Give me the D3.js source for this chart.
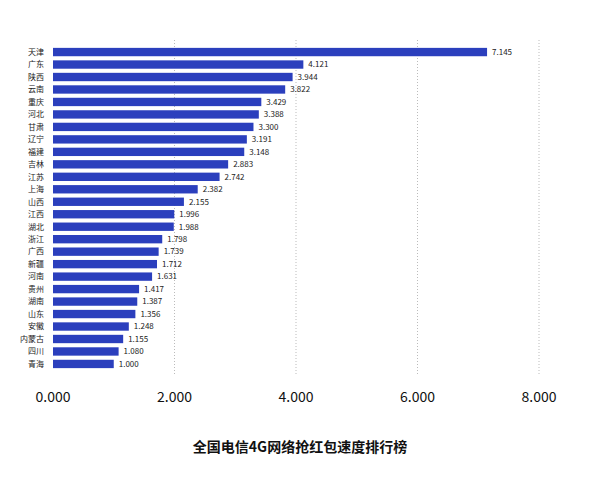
<!DOCTYPE html><html><head><meta charset="utf-8"><script src="https://cdn.jsdelivr.net/npm/d3@7"></script>
<style>body{margin:0;background:#fff}</style></head><body><svg id="c" width="600" height="490"></svg>
<script>
const provinces=["天津","广东","陕西","云南","重庆","河北","甘肃","辽宁","福建","吉林","江苏","上海","山西","江西","湖北","浙江","广西","新疆","河南","贵州","湖南","山东","安徽","内蒙古","四川","青海"];
const speeds=[7.145,4.121,3.944,3.822,3.429,3.388,3.300,3.191,3.148,2.883,2.742,2.382,2.155,1.996,1.988,1.798,1.739,1.712,1.631,1.417,1.387,1.356,1.248,1.155,1.080,1.000];
const ticks=[0,2,4,6,8];
const title="全国电信4G网络抢红包速度排行榜";
const svg=d3.select("#c");
const font="'Noto Sans CJK SC','Noto Sans',sans-serif";
const x=d3.scaleLinear().domain([0,8]).range([53,539]);
const y=d3.scaleBand().domain(provinces).range([46,370]).paddingInner(0.33).paddingOuter(0.15);
svg.append("g").selectAll("line").data(ticks.slice(1)).join("line")
 .attr("x1",d=>x(d)).attr("x2",d=>x(d)).attr("y1",40).attr("y2",376)
 .attr("stroke","#bbb").attr("stroke-dasharray","1,2");
svg.append("g").selectAll("rect").data(speeds).join("rect")
 .attr("x",x(0)).attr("y",(d,i)=>y(provinces[i])).attr("width",d=>x(d)-x(0)).attr("height",y.bandwidth())
 .attr("fill","#2b3fbd");
svg.append("g").selectAll("text").data(speeds).join("text")
 .attr("x",d=>x(d)+5).attr("y",(d,i)=>y(provinces[i])+y.bandwidth()/2).attr("dy","0.35em")
 .attr("font-size",8).attr("font-family",font).attr("fill","#222").text(d=>d.toFixed(3));
svg.append("g").selectAll("text").data(provinces).join("text")
 .attr("x",44).attr("y",d=>y(d)+y.bandwidth()/2).attr("dy","0.35em").attr("text-anchor","end")
 .attr("font-size",8).attr("font-family",font).attr("fill","#222").text(d=>d);
svg.append("g").selectAll("text").data(ticks).join("text")
 .attr("x",d=>x(d)).attr("y",402).attr("text-anchor","middle")
 .attr("font-size",14).attr("font-family",font).attr("fill","#111").text(d=>d.toFixed(3));
svg.append("text").attr("x",300).attr("y",452).attr("text-anchor","middle")
 .attr("font-size",14).attr("font-weight","bold").attr("font-family",font).attr("fill","#111").text(title);
</script></body></html>
